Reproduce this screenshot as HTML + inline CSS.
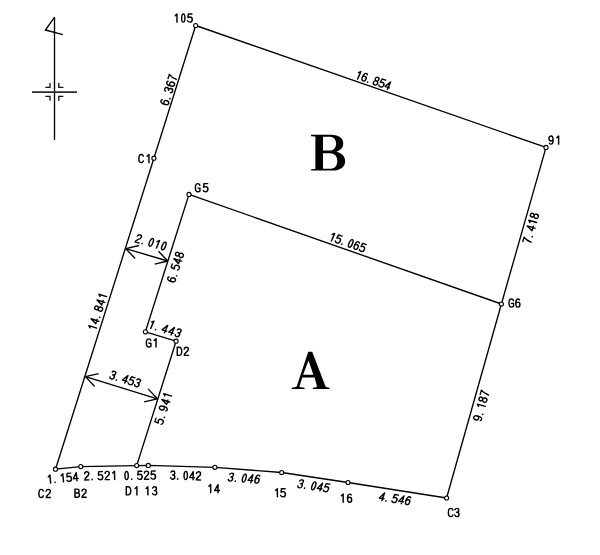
<!DOCTYPE html>
<html><head><meta charset="utf-8"><style>
html,body{margin:0;padding:0;background:#fff;width:600px;height:555px;overflow:hidden}
svg{display:block;will-change:transform}
text.big{font-family:"Liberation Serif",serif;font-weight:bold;fill:#000}
.gl path{fill:none;stroke:#000;stroke-width:1.45px;stroke-linecap:round;stroke-linejoin:round}
</style></head><body>
<svg width="600" height="555" viewBox="0 0 600 555">
<rect width="600" height="555" fill="#fff"/>
<polyline points="55.50,469.20 153.90,158.20 195.70,25.50 546.00,147.40 501.40,304.00 446.60,498.00" fill="none" stroke="#000" stroke-width="1.35" stroke-linejoin="round"/>
<polyline points="501.40,304.00 189.00,194.40 145.40,331.80 176.10,341.20 136.70,465.60" fill="none" stroke="#000" stroke-width="1.35" stroke-linejoin="round"/>
<polyline points="55.50,469.20 80.80,466.60 136.70,465.60 148.30,465.40 214.90,467.30 281.70,472.50 348.00,482.50 446.60,498.00" fill="none" stroke="#000" stroke-width="1.35" stroke-linejoin="round"/>
<line x1="125.80" y1="248.70" x2="167.80" y2="261.00" stroke="#000" stroke-width="1.35"/>
<line x1="125.80" y1="248.70" x2="138.92" y2="245.51" stroke="#000" stroke-width="1.35"/>
<line x1="125.80" y1="248.70" x2="135.12" y2="258.46" stroke="#000" stroke-width="1.35"/>
<line x1="167.80" y1="261.00" x2="154.68" y2="264.19" stroke="#000" stroke-width="1.35"/>
<line x1="167.80" y1="261.00" x2="158.48" y2="251.24" stroke="#000" stroke-width="1.35"/>
<line x1="85.50" y1="376.60" x2="157.30" y2="398.80" stroke="#000" stroke-width="1.35"/>
<line x1="85.50" y1="376.60" x2="98.66" y2="373.60" stroke="#000" stroke-width="1.35"/>
<line x1="85.50" y1="376.60" x2="94.68" y2="386.50" stroke="#000" stroke-width="1.35"/>
<line x1="157.30" y1="398.80" x2="144.14" y2="401.80" stroke="#000" stroke-width="1.35"/>
<line x1="157.30" y1="398.80" x2="148.12" y2="388.90" stroke="#000" stroke-width="1.35"/>
<line x1="54.50" y1="17.20" x2="54.50" y2="140.00" stroke="#000" stroke-width="1.35"/>
<polyline points="54.4,17.4 45.4,30.0 62.9,34.6" fill="none" stroke="#000" stroke-width="1.4" stroke-linejoin="miter"/>
<line x1="32.00" y1="92.10" x2="77.00" y2="92.10" stroke="#2a2a2a" stroke-width="1.9"/>
<polyline points="50.0,83.1 50.0,87.4 45.4,87.4" fill="none" stroke="#151515" stroke-width="1.35"/>
<polyline points="58.8,83.1 58.8,87.4 63.4,87.4" fill="none" stroke="#151515" stroke-width="1.35"/>
<polyline points="50.0,100.7 50.0,96.4 45.4,96.4" fill="none" stroke="#151515" stroke-width="1.35"/>
<polyline points="58.8,100.7 58.8,96.4 63.4,96.4" fill="none" stroke="#151515" stroke-width="1.35"/>
<circle cx="195.70" cy="25.50" r="2.05" fill="#fff" stroke="#000" stroke-width="1.1"/>
<circle cx="546.00" cy="147.40" r="2.05" fill="#fff" stroke="#000" stroke-width="1.1"/>
<circle cx="153.90" cy="158.20" r="2.05" fill="#fff" stroke="#000" stroke-width="1.1"/>
<circle cx="189.00" cy="194.40" r="2.05" fill="#fff" stroke="#000" stroke-width="1.1"/>
<circle cx="501.40" cy="304.00" r="2.05" fill="#fff" stroke="#000" stroke-width="1.1"/>
<circle cx="145.40" cy="331.80" r="2.05" fill="#fff" stroke="#000" stroke-width="1.1"/>
<circle cx="176.10" cy="341.20" r="2.05" fill="#fff" stroke="#000" stroke-width="1.1"/>
<circle cx="55.50" cy="469.20" r="2.05" fill="#fff" stroke="#000" stroke-width="1.1"/>
<circle cx="80.80" cy="466.60" r="2.05" fill="#fff" stroke="#000" stroke-width="1.1"/>
<circle cx="136.70" cy="465.60" r="2.05" fill="#fff" stroke="#000" stroke-width="1.1"/>
<circle cx="148.30" cy="465.40" r="2.05" fill="#fff" stroke="#000" stroke-width="1.1"/>
<circle cx="214.90" cy="467.30" r="2.05" fill="#fff" stroke="#000" stroke-width="1.1"/>
<circle cx="281.70" cy="472.50" r="2.05" fill="#fff" stroke="#000" stroke-width="1.1"/>
<circle cx="348.00" cy="482.50" r="2.05" fill="#fff" stroke="#000" stroke-width="1.1"/>
<circle cx="446.60" cy="498.00" r="2.05" fill="#fff" stroke="#000" stroke-width="1.1"/>
<g class="gl" transform="translate(183.70,18.05) scale(1,0.939) translate(-10.025,-4.9)"><path transform="translate(0.000,0)" d="M1.50,2.40 L3.30,0.55 L3.30,9.25"/><path transform="translate(6.745,0)" d="M2.88,0.55 C4.03,0.55 4.54,2.40 4.54,4.90 C4.54,7.40 4.03,9.25 2.88,9.25 C1.73,9.25 1.22,7.40 1.22,4.90 C1.22,2.40 1.73,0.55 2.88,0.55 Z"/><path transform="translate(13.490,0)" d="M4.80,0.60 L1.12,0.60 L0.81,4.50 C1.33,4.00 1.96,3.75 2.80,3.75 C4.27,3.75 5.06,4.80 5.06,6.40 C5.06,8.20 4.06,9.25 2.70,9.25 C1.65,9.25 0.81,8.70 0.44,7.80"/></g>
<g class="gl" transform="translate(553.80,140.05) scale(1,0.939) translate(-5.485,-4.9)"><path transform="translate(0.000,0)" d="M1.09,8.30 C1.47,8.95 2.04,9.25 2.65,9.25 C4.03,9.25 4.79,7.50 4.79,4.80 C4.79,2.10 4.03,0.55 2.70,0.55 C1.47,0.55 0.66,1.70 0.66,3.30 C0.66,4.90 1.47,5.90 2.70,5.90 C3.65,5.90 4.41,5.30 4.79,4.40"/><path transform="translate(7.010,0)" d="M1.50,2.40 L3.30,0.55 L3.30,9.25"/></g>
<g class="gl" transform="translate(143.90,158.60) scale(1,0.939) translate(-5.515,-4.9)"><path transform="translate(0.000,0)" d="M4.96,2.30 C4.69,1.10 3.96,0.55 2.85,0.55 C1.33,0.55 0.49,2.10 0.49,4.90 C0.49,7.70 1.33,9.25 2.85,9.25 C3.96,9.25 4.69,8.60 5.01,7.40"/><path transform="translate(7.240,0)" d="M1.50,2.40 L3.30,0.55 L3.30,9.25"/></g>
<g class="gl" transform="translate(201.65,187.70) scale(1,0.939) translate(-6.765,-4.9)"><path transform="translate(0.000,0)" d="M4.96,2.30 C4.69,1.10 3.96,0.55 2.85,0.55 C1.33,0.55 0.49,2.10 0.49,4.90 C0.49,7.70 1.33,9.25 2.85,9.25 C3.85,9.25 4.59,8.90 5.06,8.40 L5.06,5.30 L3.01,5.30"/><path transform="translate(7.980,0)" d="M4.80,0.60 L1.12,0.60 L0.81,4.50 C1.33,4.00 1.96,3.75 2.80,3.75 C4.27,3.75 5.06,4.80 5.06,6.40 C5.06,8.20 4.06,9.25 2.70,9.25 C1.65,9.25 0.81,8.70 0.44,7.80"/></g>
<g class="gl" transform="translate(514.45,303.05) scale(1,0.939) translate(-5.965,-4.9)"><path transform="translate(0.000,0)" d="M4.96,2.30 C4.69,1.10 3.96,0.55 2.85,0.55 C1.33,0.55 0.49,2.10 0.49,4.90 C0.49,7.70 1.33,9.25 2.85,9.25 C3.85,9.25 4.59,8.90 5.06,8.40 L5.06,5.30 L3.01,5.30"/><path transform="translate(6.600,0)" d="M4.41,1.50 C4.03,0.85 3.46,0.55 2.85,0.55 C1.47,0.55 0.71,2.30 0.71,5.00 C0.71,7.70 1.47,9.25 2.80,9.25 C4.03,9.25 4.84,8.10 4.84,6.50 C4.84,4.90 4.03,3.90 2.80,3.90 C1.85,3.90 1.09,4.50 0.71,5.40"/></g>
<g class="gl" transform="translate(151.20,342.90) scale(1,0.939) translate(-5.315,-4.9)"><path transform="translate(0.000,0)" d="M4.96,2.30 C4.69,1.10 3.96,0.55 2.85,0.55 C1.33,0.55 0.49,2.10 0.49,4.90 C0.49,7.70 1.33,9.25 2.85,9.25 C3.85,9.25 4.59,8.90 5.06,8.40 L5.06,5.30 L3.01,5.30"/><path transform="translate(6.840,0)" d="M1.50,2.40 L3.30,0.55 L3.30,9.25"/></g>
<g class="gl" transform="translate(182.85,351.35) scale(1,0.939) translate(-6.175,-4.9)"><path transform="translate(0.000,0)" d="M0.60,0.55 L0.60,9.25 L2.38,9.25 C4.17,9.25 5.06,7.80 5.06,4.90 C5.06,2.00 4.17,0.55 2.38,0.55 Z"/><path transform="translate(6.800,0)" d="M0.75,2.60 C0.80,1.30 1.70,0.55 2.80,0.55 C4.00,0.55 4.85,1.40 4.85,2.70 C4.85,3.90 4.20,4.70 3.00,5.70 C1.90,6.60 0.90,7.70 0.75,9.25 L4.95,9.25"/></g>
<g class="gl" transform="translate(44.65,493.45) scale(1,0.939) translate(-6.265,-4.9)"><path transform="translate(0.000,0)" d="M4.96,2.30 C4.69,1.10 3.96,0.55 2.85,0.55 C1.33,0.55 0.49,2.10 0.49,4.90 C0.49,7.70 1.33,9.25 2.85,9.25 C3.96,9.25 4.69,8.60 5.01,7.40"/><path transform="translate(7.090,0)" d="M0.75,2.60 C0.80,1.30 1.70,0.55 2.80,0.55 C4.00,0.55 4.85,1.40 4.85,2.70 C4.85,3.90 4.20,4.70 3.00,5.70 C1.90,6.60 0.90,7.70 0.75,9.25 L4.95,9.25"/></g>
<g class="gl" transform="translate(80.60,493.20) scale(1,0.939) translate(-6.275,-4.9)"><path transform="translate(0.000,0)" d="M0.65,0.55 L0.65,9.25 L3.01,9.25 C4.38,9.25 5.11,8.40 5.11,6.85 C5.11,5.40 4.27,4.65 3.01,4.65 L0.65,4.65 M3.01,4.65 C4.06,4.65 4.75,3.90 4.75,2.60 C4.75,1.30 4.06,0.55 3.01,0.55 L0.65,0.55"/><path transform="translate(6.950,0)" d="M0.75,2.60 C0.80,1.30 1.70,0.55 2.80,0.55 C4.00,0.55 4.85,1.40 4.85,2.70 C4.85,3.90 4.20,4.70 3.00,5.70 C1.90,6.60 0.90,7.70 0.75,9.25 L4.95,9.25"/></g>
<g class="gl" transform="translate(131.60,490.80) scale(1,0.939) translate(-5.925,-4.9)"><path transform="translate(0.000,0)" d="M0.60,0.55 L0.60,9.25 L2.38,9.25 C4.17,9.25 5.06,7.80 5.06,4.90 C5.06,2.00 4.17,0.55 2.38,0.55 Z"/><path transform="translate(7.950,0)" d="M1.50,2.40 L3.30,0.55 L3.30,9.25"/></g>
<g class="gl" transform="translate(151.40,490.80) scale(1,0.939) translate(-6.825,-4.9)"><path transform="translate(0.000,0)" d="M1.50,2.40 L3.30,0.55 L3.30,9.25"/><path transform="translate(7.310,0)" d="M0.80,2.00 C1.09,1.00 1.85,0.55 2.75,0.55 C3.94,0.55 4.60,1.35 4.60,2.50 C4.60,3.80 3.84,4.65 2.42,4.65 C4.03,4.65 4.84,5.60 4.84,6.90 C4.84,8.40 3.94,9.25 2.70,9.25 C1.66,9.25 0.90,8.60 0.66,7.60"/></g>
<g class="gl" transform="translate(214.10,488.65) scale(1,0.939) translate(-6.725,-4.9)"><path transform="translate(0.000,0)" d="M1.50,2.40 L3.30,0.55 L3.30,9.25"/><path transform="translate(6.750,0)" d="M3.90,9.25 L3.90,0.55 L0.55,6.90 L5.20,6.90"/></g>
<g class="gl" transform="translate(280.45,492.75) scale(1,0.939) translate(-6.375,-4.9)"><path transform="translate(0.000,0)" d="M1.50,2.40 L3.30,0.55 L3.30,9.25"/><path transform="translate(6.190,0)" d="M4.80,0.60 L1.12,0.60 L0.81,4.50 C1.33,4.00 1.96,3.75 2.80,3.75 C4.27,3.75 5.06,4.80 5.06,6.40 C5.06,8.20 4.06,9.25 2.70,9.25 C1.65,9.25 0.81,8.70 0.44,7.80"/></g>
<g class="gl" transform="translate(346.50,498.15) scale(1,0.939) translate(-6.625,-4.9)"><path transform="translate(0.000,0)" d="M1.50,2.40 L3.30,0.55 L3.30,9.25"/><path transform="translate(6.910,0)" d="M4.41,1.50 C4.03,0.85 3.46,0.55 2.85,0.55 C1.47,0.55 0.71,2.30 0.71,5.00 C0.71,7.70 1.47,9.25 2.80,9.25 C4.03,9.25 4.84,8.10 4.84,6.50 C4.84,4.90 4.03,3.90 2.80,3.90 C1.85,3.90 1.09,4.50 0.71,5.40"/></g>
<g class="gl" transform="translate(453.70,512.50) scale(1,0.939) translate(-5.815,-4.9)"><path transform="translate(0.000,0)" d="M4.96,2.30 C4.69,1.10 3.96,0.55 2.85,0.55 C1.33,0.55 0.49,2.10 0.49,4.90 C0.49,7.70 1.33,9.25 2.85,9.25 C3.96,9.25 4.69,8.60 5.01,7.40"/><path transform="translate(6.300,0)" d="M0.80,2.00 C1.09,1.00 1.85,0.55 2.75,0.55 C3.94,0.55 4.60,1.35 4.60,2.50 C4.60,3.80 3.84,4.65 2.42,4.65 C4.03,4.65 4.84,5.60 4.84,6.90 C4.84,8.40 3.94,9.25 2.70,9.25 C1.66,9.25 0.90,8.60 0.66,7.60"/></g>
<g class="gl" transform="translate(168.70,89.90) rotate(-72.52) scale(1,0.939) translate(-15.735,-4.9)"><path transform="translate(0.000,0)" d="M4.41,1.50 C4.03,0.85 3.46,0.55 2.85,0.55 C1.47,0.55 0.71,2.30 0.71,5.00 C0.71,7.70 1.47,9.25 2.80,9.25 C4.03,9.25 4.84,8.10 4.84,6.50 C4.84,4.90 4.03,3.90 2.80,3.90 C1.85,3.90 1.09,4.50 0.71,5.40"/><path transform="translate(6.452,0)" d="M1.30,8.60 L1.30,9.10"/><path transform="translate(12.905,0)" d="M0.80,2.00 C1.09,1.00 1.85,0.55 2.75,0.55 C3.94,0.55 4.60,1.35 4.60,2.50 C4.60,3.80 3.84,4.65 2.42,4.65 C4.03,4.65 4.84,5.60 4.84,6.90 C4.84,8.40 3.94,9.25 2.70,9.25 C1.66,9.25 0.90,8.60 0.66,7.60"/><path transform="translate(19.357,0)" d="M4.41,1.50 C4.03,0.85 3.46,0.55 2.85,0.55 C1.47,0.55 0.71,2.30 0.71,5.00 C0.71,7.70 1.47,9.25 2.80,9.25 C4.03,9.25 4.84,8.10 4.84,6.50 C4.84,4.90 4.03,3.90 2.80,3.90 C1.85,3.90 1.09,4.50 0.71,5.40"/><path transform="translate(25.810,0)" d="M0.55,0.60 L4.95,0.60 C3.40,2.80 2.50,5.80 2.20,9.25"/></g>
<g class="gl" transform="translate(373.90,80.40) rotate(19.19) skewX(-4.0) scale(1,0.939) translate(-18.775,-4.9)"><path transform="translate(0.000,0)" d="M1.50,2.40 L3.30,0.55 L3.30,9.25"/><path transform="translate(6.170,0)" d="M4.41,1.50 C4.03,0.85 3.46,0.55 2.85,0.55 C1.47,0.55 0.71,2.30 0.71,5.00 C0.71,7.70 1.47,9.25 2.80,9.25 C4.03,9.25 4.84,8.10 4.84,6.50 C4.84,4.90 4.03,3.90 2.80,3.90 C1.85,3.90 1.09,4.50 0.71,5.40"/><path transform="translate(12.340,0)" d="M1.30,8.60 L1.30,9.10"/><path transform="translate(18.510,0)" d="M2.75,4.60 C1.66,4.60 0.95,3.70 0.95,2.55 C0.95,1.35 1.66,0.55 2.75,0.55 C3.84,0.55 4.55,1.35 4.55,2.55 C4.55,3.70 3.84,4.60 2.75,4.60 C1.47,4.60 0.66,5.60 0.66,6.90 C0.66,8.30 1.47,9.25 2.75,9.25 C4.03,9.25 4.84,8.30 4.84,6.90 C4.84,5.60 4.03,4.60 2.75,4.60 Z"/><path transform="translate(24.680,0)" d="M4.80,0.60 L1.12,0.60 L0.81,4.50 C1.33,4.00 1.96,3.75 2.80,3.75 C4.27,3.75 5.06,4.80 5.06,6.40 C5.06,8.20 4.06,9.25 2.70,9.25 C1.65,9.25 0.81,8.70 0.44,7.80"/><path transform="translate(30.850,0)" d="M3.90,9.25 L3.90,0.55 L0.55,6.90 L5.20,6.90"/></g>
<g class="gl" transform="translate(530.80,228.20) rotate(-74.10) scale(1,0.939) translate(-15.575,-4.9)"><path transform="translate(0.000,0)" d="M0.55,0.60 L4.95,0.60 C3.40,2.80 2.50,5.80 2.20,9.25"/><path transform="translate(6.440,0)" d="M1.30,8.60 L1.30,9.10"/><path transform="translate(12.880,0)" d="M3.90,9.25 L3.90,0.55 L0.55,6.90 L5.20,6.90"/><path transform="translate(19.320,0)" d="M1.50,2.40 L3.30,0.55 L3.30,9.25"/><path transform="translate(25.760,0)" d="M2.75,4.60 C1.66,4.60 0.95,3.70 0.95,2.55 C0.95,1.35 1.66,0.55 2.75,0.55 C3.84,0.55 4.55,1.35 4.55,2.55 C4.55,3.70 3.84,4.60 2.75,4.60 C1.47,4.60 0.66,5.60 0.66,6.90 C0.66,8.30 1.47,9.25 2.75,9.25 C4.03,9.25 4.84,8.30 4.84,6.90 C4.84,5.60 4.03,4.60 2.75,4.60 Z"/></g>
<g class="gl" transform="translate(348.10,242.50) rotate(19.33) skewX(-4.0) scale(1,0.939) translate(-19.275,-4.9)"><path transform="translate(0.000,0)" d="M1.50,2.40 L3.30,0.55 L3.30,9.25"/><path transform="translate(6.398,0)" d="M4.80,0.60 L1.12,0.60 L0.81,4.50 C1.33,4.00 1.96,3.75 2.80,3.75 C4.27,3.75 5.06,4.80 5.06,6.40 C5.06,8.20 4.06,9.25 2.70,9.25 C1.65,9.25 0.81,8.70 0.44,7.80"/><path transform="translate(12.796,0)" d="M1.30,8.60 L1.30,9.10"/><path transform="translate(19.194,0)" d="M2.88,0.55 C4.03,0.55 4.54,2.40 4.54,4.90 C4.54,7.40 4.03,9.25 2.88,9.25 C1.73,9.25 1.22,7.40 1.22,4.90 C1.22,2.40 1.73,0.55 2.88,0.55 Z"/><path transform="translate(25.592,0)" d="M4.41,1.50 C4.03,0.85 3.46,0.55 2.85,0.55 C1.47,0.55 0.71,2.30 0.71,5.00 C0.71,7.70 1.47,9.25 2.80,9.25 C4.03,9.25 4.84,8.10 4.84,6.50 C4.84,4.90 4.03,3.90 2.80,3.90 C1.85,3.90 1.09,4.50 0.71,5.40"/><path transform="translate(31.990,0)" d="M4.80,0.60 L1.12,0.60 L0.81,4.50 C1.33,4.00 1.96,3.75 2.80,3.75 C4.27,3.75 5.06,4.80 5.06,6.40 C5.06,8.20 4.06,9.25 2.70,9.25 C1.65,9.25 0.81,8.70 0.44,7.80"/></g>
<g class="gl" transform="translate(151.00,242.30) rotate(16.18) skewX(-6.0) scale(1,0.939) translate(-15.775,-4.9)"><path transform="translate(0.000,0)" d="M0.75,2.60 C0.80,1.30 1.70,0.55 2.80,0.55 C4.00,0.55 4.85,1.40 4.85,2.70 C4.85,3.90 4.20,4.70 3.00,5.70 C1.90,6.60 0.90,7.70 0.75,9.25 L4.95,9.25"/><path transform="translate(6.565,0)" d="M1.30,8.60 L1.30,9.10"/><path transform="translate(13.130,0)" d="M2.88,0.55 C4.03,0.55 4.54,2.40 4.54,4.90 C4.54,7.40 4.03,9.25 2.88,9.25 C1.73,9.25 1.22,7.40 1.22,4.90 C1.22,2.40 1.73,0.55 2.88,0.55 Z"/><path transform="translate(19.695,0)" d="M1.50,2.40 L3.30,0.55 L3.30,9.25"/><path transform="translate(26.260,0)" d="M2.88,0.55 C4.03,0.55 4.54,2.40 4.54,4.90 C4.54,7.40 4.03,9.25 2.88,9.25 C1.73,9.25 1.22,7.40 1.22,4.90 C1.22,2.40 1.73,0.55 2.88,0.55 Z"/></g>
<g class="gl" transform="translate(175.50,267.10) rotate(-72.36) scale(1,0.939) translate(-15.735,-4.9)"><path transform="translate(0.000,0)" d="M4.41,1.50 C4.03,0.85 3.46,0.55 2.85,0.55 C1.47,0.55 0.71,2.30 0.71,5.00 C0.71,7.70 1.47,9.25 2.80,9.25 C4.03,9.25 4.84,8.10 4.84,6.50 C4.84,4.90 4.03,3.90 2.80,3.90 C1.85,3.90 1.09,4.50 0.71,5.40"/><path transform="translate(6.480,0)" d="M1.30,8.60 L1.30,9.10"/><path transform="translate(12.960,0)" d="M4.80,0.60 L1.12,0.60 L0.81,4.50 C1.33,4.00 1.96,3.75 2.80,3.75 C4.27,3.75 5.06,4.80 5.06,6.40 C5.06,8.20 4.06,9.25 2.70,9.25 C1.65,9.25 0.81,8.70 0.44,7.80"/><path transform="translate(19.440,0)" d="M3.90,9.25 L3.90,0.55 L0.55,6.90 L5.20,6.90"/><path transform="translate(25.920,0)" d="M2.75,4.60 C1.66,4.60 0.95,3.70 0.95,2.55 C0.95,1.35 1.66,0.55 2.75,0.55 C3.84,0.55 4.55,1.35 4.55,2.55 C4.55,3.70 3.84,4.60 2.75,4.60 C1.47,4.60 0.66,5.60 0.66,6.90 C0.66,8.30 1.47,9.25 2.75,9.25 C4.03,9.25 4.84,8.30 4.84,6.90 C4.84,5.60 4.03,4.60 2.75,4.60 Z"/></g>
<g class="gl" transform="translate(97.50,312.00) rotate(-72.43) scale(1,0.939) translate(-18.875,-4.9)"><path transform="translate(0.000,0)" d="M1.50,2.40 L3.30,0.55 L3.30,9.25"/><path transform="translate(6.590,0)" d="M3.90,9.25 L3.90,0.55 L0.55,6.90 L5.20,6.90"/><path transform="translate(13.180,0)" d="M1.30,8.60 L1.30,9.10"/><path transform="translate(19.770,0)" d="M2.75,4.60 C1.66,4.60 0.95,3.70 0.95,2.55 C0.95,1.35 1.66,0.55 2.75,0.55 C3.84,0.55 4.55,1.35 4.55,2.55 C4.55,3.70 3.84,4.60 2.75,4.60 C1.47,4.60 0.66,5.60 0.66,6.90 C0.66,8.30 1.47,9.25 2.75,9.25 C4.03,9.25 4.84,8.30 4.84,6.90 C4.84,5.60 4.03,4.60 2.75,4.60 Z"/><path transform="translate(26.360,0)" d="M3.90,9.25 L3.90,0.55 L0.55,6.90 L5.20,6.90"/><path transform="translate(32.950,0)" d="M1.50,2.40 L3.30,0.55 L3.30,9.25"/></g>
<g class="gl" transform="translate(165.40,328.90) rotate(17.53) skewX(-6.0) scale(1,0.939) translate(-17.025,-4.9)"><path transform="translate(0.000,0)" d="M1.50,2.40 L3.30,0.55 L3.30,9.25"/><path transform="translate(6.928,0)" d="M1.30,8.60 L1.30,9.10"/><path transform="translate(13.855,0)" d="M3.90,9.25 L3.90,0.55 L0.55,6.90 L5.20,6.90"/><path transform="translate(20.782,0)" d="M3.90,9.25 L3.90,0.55 L0.55,6.90 L5.20,6.90"/><path transform="translate(27.710,0)" d="M0.80,2.00 C1.09,1.00 1.85,0.55 2.75,0.55 C3.94,0.55 4.60,1.35 4.60,2.50 C4.60,3.80 3.84,4.65 2.42,4.65 C4.03,4.65 4.84,5.60 4.84,6.90 C4.84,8.40 3.94,9.25 2.70,9.25 C1.66,9.25 0.90,8.60 0.66,7.60"/></g>
<g class="gl" transform="translate(125.30,379.00) rotate(17.49) skewX(-6.0) scale(1,0.939) translate(-15.685,-4.9)"><path transform="translate(0.000,0)" d="M0.80,2.00 C1.09,1.00 1.85,0.55 2.75,0.55 C3.94,0.55 4.60,1.35 4.60,2.50 C4.60,3.80 3.84,4.65 2.42,4.65 C4.03,4.65 4.84,5.60 4.84,6.90 C4.84,8.40 3.94,9.25 2.70,9.25 C1.66,9.25 0.90,8.60 0.66,7.60"/><path transform="translate(6.468,0)" d="M1.30,8.60 L1.30,9.10"/><path transform="translate(12.935,0)" d="M3.90,9.25 L3.90,0.55 L0.55,6.90 L5.20,6.90"/><path transform="translate(19.402,0)" d="M4.80,0.60 L1.12,0.60 L0.81,4.50 C1.33,4.00 1.96,3.75 2.80,3.75 C4.27,3.75 5.06,4.80 5.06,6.40 C5.06,8.20 4.06,9.25 2.70,9.25 C1.65,9.25 0.81,8.70 0.44,7.80"/><path transform="translate(25.870,0)" d="M0.80,2.00 C1.09,1.00 1.85,0.55 2.75,0.55 C3.94,0.55 4.60,1.35 4.60,2.50 C4.60,3.80 3.84,4.65 2.42,4.65 C4.03,4.65 4.84,5.60 4.84,6.90 C4.84,8.40 3.94,9.25 2.70,9.25 C1.66,9.25 0.90,8.60 0.66,7.60"/></g>
<g class="gl" transform="translate(163.10,409.20) rotate(-72.43) scale(1,0.939) translate(-15.465,-4.9)"><path transform="translate(0.000,0)" d="M4.80,0.60 L1.12,0.60 L0.81,4.50 C1.33,4.00 1.96,3.75 2.80,3.75 C4.27,3.75 5.06,4.80 5.06,6.40 C5.06,8.20 4.06,9.25 2.70,9.25 C1.65,9.25 0.81,8.70 0.44,7.80"/><path transform="translate(6.798,0)" d="M1.30,8.60 L1.30,9.10"/><path transform="translate(13.595,0)" d="M1.09,8.30 C1.47,8.95 2.04,9.25 2.65,9.25 C4.03,9.25 4.79,7.50 4.79,4.80 C4.79,2.10 4.03,0.55 2.70,0.55 C1.47,0.55 0.66,1.70 0.66,3.30 C0.66,4.90 1.47,5.90 2.70,5.90 C3.65,5.90 4.41,5.30 4.79,4.40"/><path transform="translate(20.393,0)" d="M3.90,9.25 L3.90,0.55 L0.55,6.90 L5.20,6.90"/><path transform="translate(27.190,0)" d="M1.50,2.40 L3.30,0.55 L3.30,9.25"/></g>
<g class="gl" transform="translate(481.20,405.70) rotate(-74.23) scale(1,0.939) translate(-15.685,-4.9)"><path transform="translate(0.000,0)" d="M1.09,8.30 C1.47,8.95 2.04,9.25 2.65,9.25 C4.03,9.25 4.79,7.50 4.79,4.80 C4.79,2.10 4.03,0.55 2.70,0.55 C1.47,0.55 0.66,1.70 0.66,3.30 C0.66,4.90 1.47,5.90 2.70,5.90 C3.65,5.90 4.41,5.30 4.79,4.40"/><path transform="translate(6.440,0)" d="M1.30,8.60 L1.30,9.10"/><path transform="translate(12.880,0)" d="M1.50,2.40 L3.30,0.55 L3.30,9.25"/><path transform="translate(19.320,0)" d="M2.75,4.60 C1.66,4.60 0.95,3.70 0.95,2.55 C0.95,1.35 1.66,0.55 2.75,0.55 C3.84,0.55 4.55,1.35 4.55,2.55 C4.55,3.70 3.84,4.60 2.75,4.60 C1.47,4.60 0.66,5.60 0.66,6.90 C0.66,8.30 1.47,9.25 2.75,9.25 C4.03,9.25 4.84,8.30 4.84,6.90 C4.84,5.60 4.03,4.60 2.75,4.60 Z"/><path transform="translate(25.760,0)" d="M0.55,0.60 L4.95,0.60 C3.40,2.80 2.50,5.80 2.20,9.25"/></g>
<g class="gl" transform="translate(63.20,477.85) rotate(-5.19) scale(1,0.939) translate(-16.275,-4.9)"><path transform="translate(0.000,0)" d="M1.50,2.40 L3.30,0.55 L3.30,9.25"/><path transform="translate(6.462,0)" d="M1.30,8.60 L1.30,9.10"/><path transform="translate(12.925,0)" d="M1.50,2.40 L3.30,0.55 L3.30,9.25"/><path transform="translate(19.387,0)" d="M4.80,0.60 L1.12,0.60 L0.81,4.50 C1.33,4.00 1.96,3.75 2.80,3.75 C4.27,3.75 5.06,4.80 5.06,6.40 C5.06,8.20 4.06,9.25 2.70,9.25 C1.65,9.25 0.81,8.70 0.44,7.80"/><path transform="translate(25.850,0)" d="M3.90,9.25 L3.90,0.55 L0.55,6.90 L5.20,6.90"/></g>
<g class="gl" transform="translate(99.65,475.65) rotate(-1.00) scale(1,0.939) translate(-15.675,-4.9)"><path transform="translate(0.000,0)" d="M0.75,2.60 C0.80,1.30 1.70,0.55 2.80,0.55 C4.00,0.55 4.85,1.40 4.85,2.70 C4.85,3.90 4.20,4.70 3.00,5.70 C1.90,6.60 0.90,7.70 0.75,9.25 L4.95,9.25"/><path transform="translate(6.825,0)" d="M1.30,8.60 L1.30,9.10"/><path transform="translate(13.650,0)" d="M4.80,0.60 L1.12,0.60 L0.81,4.50 C1.33,4.00 1.96,3.75 2.80,3.75 C4.27,3.75 5.06,4.80 5.06,6.40 C5.06,8.20 4.06,9.25 2.70,9.25 C1.65,9.25 0.81,8.70 0.44,7.80"/><path transform="translate(20.475,0)" d="M0.75,2.60 C0.80,1.30 1.70,0.55 2.80,0.55 C4.00,0.55 4.85,1.40 4.85,2.70 C4.85,3.90 4.20,4.70 3.00,5.70 C1.90,6.60 0.90,7.70 0.75,9.25 L4.95,9.25"/><path transform="translate(27.300,0)" d="M1.50,2.40 L3.30,0.55 L3.30,9.25"/></g>
<g class="gl" transform="translate(140.20,475.30) rotate(-1.00) scale(1,0.939) translate(-16.495,-4.9)"><path transform="translate(0.000,0)" d="M2.88,0.55 C4.03,0.55 4.54,2.40 4.54,4.90 C4.54,7.40 4.03,9.25 2.88,9.25 C1.73,9.25 1.22,7.40 1.22,4.90 C1.22,2.40 1.73,0.55 2.88,0.55 Z"/><path transform="translate(6.678,0)" d="M1.30,8.60 L1.30,9.10"/><path transform="translate(13.355,0)" d="M4.80,0.60 L1.12,0.60 L0.81,4.50 C1.33,4.00 1.96,3.75 2.80,3.75 C4.27,3.75 5.06,4.80 5.06,6.40 C5.06,8.20 4.06,9.25 2.70,9.25 C1.65,9.25 0.81,8.70 0.44,7.80"/><path transform="translate(20.032,0)" d="M0.75,2.60 C0.80,1.30 1.70,0.55 2.80,0.55 C4.00,0.55 4.85,1.40 4.85,2.70 C4.85,3.90 4.20,4.70 3.00,5.70 C1.90,6.60 0.90,7.70 0.75,9.25 L4.95,9.25"/><path transform="translate(26.710,0)" d="M4.80,0.60 L1.12,0.60 L0.81,4.50 C1.33,4.00 1.96,3.75 2.80,3.75 C4.27,3.75 5.06,4.80 5.06,6.40 C5.06,8.20 4.06,9.25 2.70,9.25 C1.65,9.25 0.81,8.70 0.44,7.80"/></g>
<g class="gl" transform="translate(185.65,475.50) rotate(1.63) scale(1,0.939) translate(-15.585,-4.9)"><path transform="translate(0.000,0)" d="M0.80,2.00 C1.09,1.00 1.85,0.55 2.75,0.55 C3.94,0.55 4.60,1.35 4.60,2.50 C4.60,3.80 3.84,4.65 2.42,4.65 C4.03,4.65 4.84,5.60 4.84,6.90 C4.84,8.40 3.94,9.25 2.70,9.25 C1.66,9.25 0.90,8.60 0.66,7.60"/><path transform="translate(6.390,0)" d="M1.30,8.60 L1.30,9.10"/><path transform="translate(12.780,0)" d="M2.88,0.55 C4.03,0.55 4.54,2.40 4.54,4.90 C4.54,7.40 4.03,9.25 2.88,9.25 C1.73,9.25 1.22,7.40 1.22,4.90 C1.22,2.40 1.73,0.55 2.88,0.55 Z"/><path transform="translate(19.170,0)" d="M3.90,9.25 L3.90,0.55 L0.55,6.90 L5.20,6.90"/><path transform="translate(25.560,0)" d="M0.75,2.60 C0.80,1.30 1.70,0.55 2.80,0.55 C4.00,0.55 4.85,1.40 4.85,2.70 C4.85,3.90 4.20,4.70 3.00,5.70 C1.90,6.60 0.90,7.70 0.75,9.25 L4.95,9.25"/></g>
<g class="gl" transform="translate(244.15,478.15) rotate(4.45) skewX(-10.0) scale(1,0.939) translate(-15.935,-4.9)"><path transform="translate(0.000,0)" d="M0.80,2.00 C1.09,1.00 1.85,0.55 2.75,0.55 C3.94,0.55 4.60,1.35 4.60,2.50 C4.60,3.80 3.84,4.65 2.42,4.65 C4.03,4.65 4.84,5.60 4.84,6.90 C4.84,8.40 3.94,9.25 2.70,9.25 C1.66,9.25 0.90,8.60 0.66,7.60"/><path transform="translate(6.593,0)" d="M1.30,8.60 L1.30,9.10"/><path transform="translate(13.185,0)" d="M2.88,0.55 C4.03,0.55 4.54,2.40 4.54,4.90 C4.54,7.40 4.03,9.25 2.88,9.25 C1.73,9.25 1.22,7.40 1.22,4.90 C1.22,2.40 1.73,0.55 2.88,0.55 Z"/><path transform="translate(19.777,0)" d="M3.90,9.25 L3.90,0.55 L0.55,6.90 L5.20,6.90"/><path transform="translate(26.370,0)" d="M4.41,1.50 C4.03,0.85 3.46,0.55 2.85,0.55 C1.47,0.55 0.71,2.30 0.71,5.00 C0.71,7.70 1.47,9.25 2.80,9.25 C4.03,9.25 4.84,8.10 4.84,6.50 C4.84,4.90 4.03,3.90 2.80,3.90 C1.85,3.90 1.09,4.50 0.71,5.40"/></g>
<g class="gl" transform="translate(313.75,485.85) rotate(8.58) skewX(-10.0) scale(1,0.939) translate(-15.935,-4.9)"><path transform="translate(0.000,0)" d="M0.80,2.00 C1.09,1.00 1.85,0.55 2.75,0.55 C3.94,0.55 4.60,1.35 4.60,2.50 C4.60,3.80 3.84,4.65 2.42,4.65 C4.03,4.65 4.84,5.60 4.84,6.90 C4.84,8.40 3.94,9.25 2.70,9.25 C1.66,9.25 0.90,8.60 0.66,7.60"/><path transform="translate(6.537,0)" d="M1.30,8.60 L1.30,9.10"/><path transform="translate(13.075,0)" d="M2.88,0.55 C4.03,0.55 4.54,2.40 4.54,4.90 C4.54,7.40 4.03,9.25 2.88,9.25 C1.73,9.25 1.22,7.40 1.22,4.90 C1.22,2.40 1.73,0.55 2.88,0.55 Z"/><path transform="translate(19.612,0)" d="M3.90,9.25 L3.90,0.55 L0.55,6.90 L5.20,6.90"/><path transform="translate(26.150,0)" d="M4.80,0.60 L1.12,0.60 L0.81,4.50 C1.33,4.00 1.96,3.75 2.80,3.75 C4.27,3.75 5.06,4.80 5.06,6.40 C5.06,8.20 4.06,9.25 2.70,9.25 C1.65,9.25 0.81,8.70 0.44,7.80"/></g>
<g class="gl" transform="translate(395.00,498.60) rotate(8.93) skewX(-10.0) scale(1,0.939) translate(-15.825,-4.9)"><path transform="translate(0.000,0)" d="M3.90,9.25 L3.90,0.55 L0.55,6.90 L5.20,6.90"/><path transform="translate(6.565,0)" d="M1.30,8.60 L1.30,9.10"/><path transform="translate(13.130,0)" d="M4.80,0.60 L1.12,0.60 L0.81,4.50 C1.33,4.00 1.96,3.75 2.80,3.75 C4.27,3.75 5.06,4.80 5.06,6.40 C5.06,8.20 4.06,9.25 2.70,9.25 C1.65,9.25 0.81,8.70 0.44,7.80"/><path transform="translate(19.695,0)" d="M3.90,9.25 L3.90,0.55 L0.55,6.90 L5.20,6.90"/><path transform="translate(26.260,0)" d="M4.41,1.50 C4.03,0.85 3.46,0.55 2.85,0.55 C1.47,0.55 0.71,2.30 0.71,5.00 C0.71,7.70 1.47,9.25 2.80,9.25 C4.03,9.25 4.84,8.10 4.84,6.50 C4.84,4.90 4.03,3.90 2.80,3.90 C1.85,3.90 1.09,4.50 0.71,5.40"/></g>
<path transform="translate(305,130) scale(0.081081)" fill="#000" fill-rule="evenodd" d="M75,60 L320,60 C425,60 472,105 472,165 C472,218 435,252 385,267 C452,282 495,322 495,385 C495,452 440,500 335,500 L75,500 L75,484 L128,480 L128,80 L75,76 Z M222,82 L222,254 L300,254 C352,254 383,222 383,166 C383,112 352,82 300,82 Z M222,286 L222,478 L305,478 C368,478 398,445 398,382 C398,320 365,286 305,286 Z"/>
<path transform="translate(288,348) scale(0.082850)" fill="#000" fill-rule="evenodd" d="M244,45 L292,45 L452,462 C462,474 478,478 500,480 L500,495 L300,495 L300,480 C330,478 352,474 350,466 L322,357 L172,357 L138,466 C136,474 170,478 200,480 L200,495 L45,495 L45,480 C72,478 96,474 106,462 Z M248,150 L306,322 L182,322 Z"/>
</svg>
</body></html>
